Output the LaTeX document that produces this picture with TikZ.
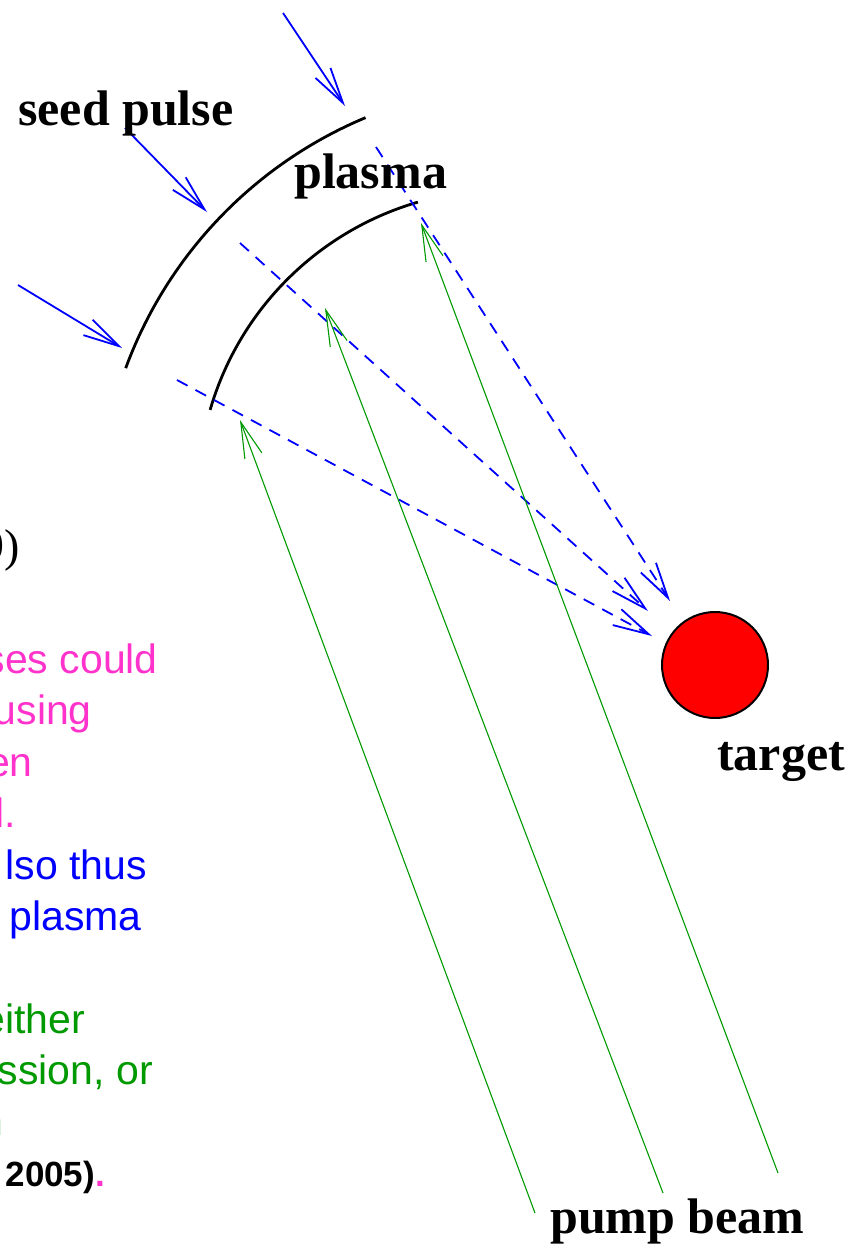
\documentclass[tikz,border=0pt]{standalone}
\usepackage{fontspec}
\setmainfont{Liberation Serif}
\newfontfamily\helv{Liberation Sans}
\usepackage{xcolor}
\usetikzlibrary{arrows.meta}
\definecolor{seedBlue}{HTML}{0000FF}
\definecolor{pumpGreen}{HTML}{009A00}
\definecolor{notePink}{HTML}{FF33CC}
\definecolor{noteGreen}{HTML}{009900}

\begin{document}
\begin{tikzpicture}[x=1pt, y=-1pt,
    every node/.style={inner sep=0pt},
    lbl/.style={font=\fontsize{50}{60}\selectfont\bfseries, anchor=base west},
    note/.style={font=\helv\fontsize{41}{50}\selectfont, anchor=base east},
    barb/.style={-{Straight Barb[length=36pt, width=18pt]}},
    seed/.style={barb, seedBlue, line width=1.8pt},
    ray/.style={barb, seedBlue, line width=1.8pt, dash pattern=on 12pt off 9pt},
    pump/.style={barb, pumpGreen, line width=1.1pt}]
    \useasboundingbox (0,0) rectangle (852,1247);

    % plasma fronts
    \draw[line width=2.8pt, domain=200.2:247.3, smooth, samples=60]
        plot ({533+434*cos(\x)}, {518+434*sin(\x)});
    \draw[line width=2.8pt, domain=196.2:253.8, smooth, samples=60]
        plot ({503+305*cos(\x)}, {495+305*sin(\x)});

    % seed pulse
    \coordinate (s1) at (283,13);   \coordinate (s1tip) at (345,106);
    \coordinate (s2) at (125,128);  \coordinate (s2tip) at (207,212);
    \coordinate (s3) at (18,285);   \coordinate (s3tip) at (122,348);
    \draw[seed] (s1) -- (s1tip);
    \draw[seed] (s2) -- (s2tip);
    \draw[seed] (s3) -- (s3tip);

    % rays to the target
    \coordinate (r1) at (376,147);  \coordinate (r1tip) at (670,601);
    \coordinate (r2) at (240,243);  \coordinate (r2tip) at (648,611);
    \coordinate (r3) at (177,380);  \coordinate (r3tip) at (652,636);
    \draw[ray] (r1) -- (r1tip);
    \draw[ray] (r2) -- (r2tip);
    \draw[ray] (r3) -- (r3tip);

    % pump beam
    \coordinate (p1) at (535,1213); \coordinate (p1tip) at (240,420);
    \coordinate (p2) at (663,1193); \coordinate (p2tip) at (325,308);
    \coordinate (p3) at (778,1173); \coordinate (p3tip) at (421,223);
    \draw[pump] (p1) -- (p1tip);
    \draw[pump] (p2) -- (p2tip);
    \draw[pump] (p3) -- (p3tip);

    \node[circle, draw, fill=red, line width=2pt, minimum size=106pt] (target) at (715,665) {};

    \node[lbl] (seedLbl) at (18,125) {seed pulse};
    \node[lbl] (plasmaLbl) at (294,188) {plasma};
    \node[lbl] (targetLbl) at (717,770) {target};
    \node[lbl] (pumpLbl) at (550,1233) {pump beam};

    % text cut at the left edge
    \node[note, font=\fontsize{46}{50}\selectfont] (n0) at (20,561) {9)};
    \node[note, notePink] (n1) at (158,673) {ses could};
    \node[note, notePink] (n2) at (92,724) {using};
    \node[note, notePink] (n3) at (33,776) {en};
    \node[note, notePink] (n4) at (16,827) {l.};
    \node[note, seedBlue] (n5) at (147,879) {lso thus};
    \node[note, seedBlue] (n6) at (142,930) {plasma};
    \node[note, noteGreen] (n7) at (85,1033) {either};
    \node[note, noteGreen] (n8) at (153,1084) {ssion, or};
    \node[note, noteGreen] (n9) at (4,1135) {n};
    \node[note, font=\helv\fontsize{35}{42}\selectfont\bfseries] (n10) at (105,1186)
        {2005)\textcolor{notePink}{.}};
\end{tikzpicture}
\end{document}
